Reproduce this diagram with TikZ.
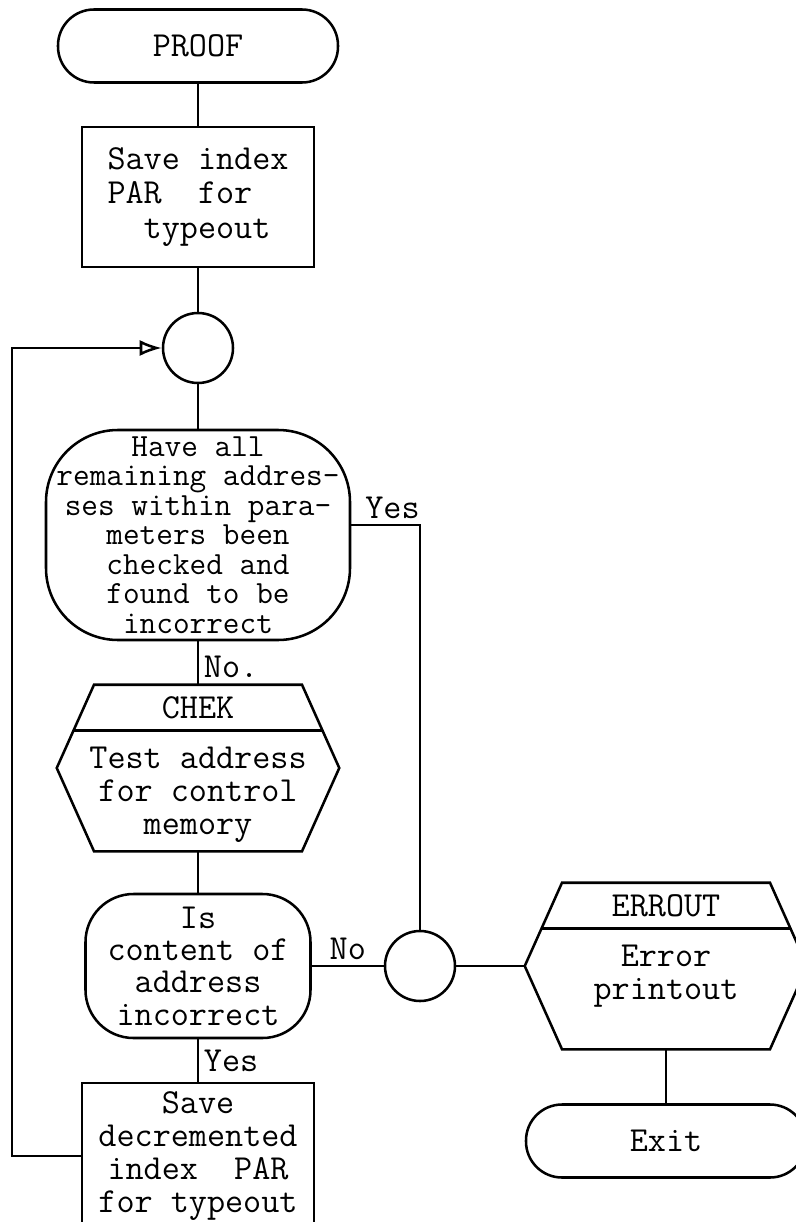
\documentclass[tikz,border=0pt]{standalone}
\usepackage{fontspec}
\usepackage{tikz}
\usetikzlibrary{arrows.meta,positioning,calc}

\begin{document}
\begin{tikzpicture}[line width=1.8pt,
  terminal/.style={draw, rectangle, rounded corners=0.9cm, minimum width=7cm, minimum height=1.825cm, font=\ttfamily\fontsize{25}{23.5}\selectfont},
  procbox/.style={draw, rectangle, minimum width=5.8cm, minimum height=3.5cm, inner sep=1pt, font=\ttfamily\fontsize{25}{24.5}\selectfont},
  decision/.style={draw, rectangle, align=center, inner sep=1pt, font=\ttfamily\fontsize{25}{23}\selectfont},
  joint/.style={draw, circle, minimum size=1.75cm, inner sep=0pt},
  subr/.style={rectangle, minimum width=7cm, minimum height=4.1cm, inner sep=0pt},
  txt/.style={align=center, inner sep=1pt, font=\ttfamily\fontsize{25}{23.5}\selectfont},
  lbl/.style={font=\ttfamily\fontsize{25}{23.5}\selectfont},
  flow/.style={-{Latex[open, length=5.5mm, width=4mm]}}
]
\useasboundingbox[fill=white] (0,0) rectangle (19.9,-30.55);
\clip (0,0) rectangle (19.9,-30.55);

\node[terminal] (proof) at (4.95, -1.15) {PROOF};
\node[procbox, align=left] (save) at (4.95, -4.925) {Save index\\PAR~~for\\~~typeout};
\node[joint] (loop) at (4.95, -8.7) {};
\node[decision, minimum width=7.6cm, minimum height=5.25cm, rounded corners=1.8cm, font=\ttfamily\fontsize{23}{21}\selectfont] (have) at (4.95, -13.375) {Have all\\remaining addres-\\ses within para-\\meters been\\checked and\\found to be\\incorrect};
\node[subr] (chek) at (4.95, -19.2) {};
\node[txt] (chekname) at ([yshift=-0.575cm]chek.north) {CHEK};
\node[txt, anchor=north] (chektext) at ([yshift=-1.5cm]chek.north) {Test address\\for control\\memory};
\node[decision, minimum width=5.625cm, minimum height=3.6cm, rounded corners=1.2cm] (content) at (4.95, -24.15) {Is\\content of\\address\\incorrect};
\node[procbox, align=center, minimum height=3.65cm, font=\ttfamily\fontsize{25}{23.5}\selectfont] (decr) at (4.95, -28.9) {Save\\decremented\\index~~PAR\\for typeout};
\node[joint] (join) at (10.5, -24.15) {};
\node[subr] (errout) at (16.65, -24.15) {};
\node[txt] (erroutname) at ([yshift=-0.575cm]errout.north) {ERROUT};
\node[txt, anchor=north] (errouttext) at ([yshift=-1.5cm]errout.north) {Error\\printout};
\node[terminal] (exit) at (16.65, -28.525) {Exit};

\draw ([xshift=-2.6cm]chek.north) -- ([xshift=2.6cm]chek.north) -- (chek.east) -- ([xshift=2.6cm]chek.south) -- ([xshift=-2.6cm]chek.south) -- (chek.west) -- cycle;
\draw ([shift={(-3.1,-1.15)}]chek.north) -- ([shift={(3.1,-1.15)}]chek.north);
\draw ([xshift=-2.6cm]errout.north) -- ([xshift=2.6cm]errout.north) -- (errout.east) -- ([xshift=2.6cm]errout.south) -- ([xshift=-2.6cm]errout.south) -- (errout.west) -- cycle;
\draw ([shift={(-3.1,-1.15)}]errout.north) -- ([shift={(3.1,-1.15)}]errout.north);

\draw (proof) -- (save);
\draw (save) -- (loop);
\draw (loop) -- (have);
\draw (have) -- node[lbl, right, pos=0.6] {No.} (chek.north);
\draw (chek.south) -- (content);
\draw (content) -- node[lbl, right] {Yes} (decr);
\draw (content) -- node[lbl, above] {No} (join);
\draw ([yshift=0.25cm]have.east) -| node[lbl, above, pos=0.3] {Yes} (join);
\draw (join) -- (errout.west);
\draw (errout.south) -- (exit);
\draw[flow] (decr.west) -- ++(-1.72,0) |- (loop);

\end{tikzpicture}
\end{document}
